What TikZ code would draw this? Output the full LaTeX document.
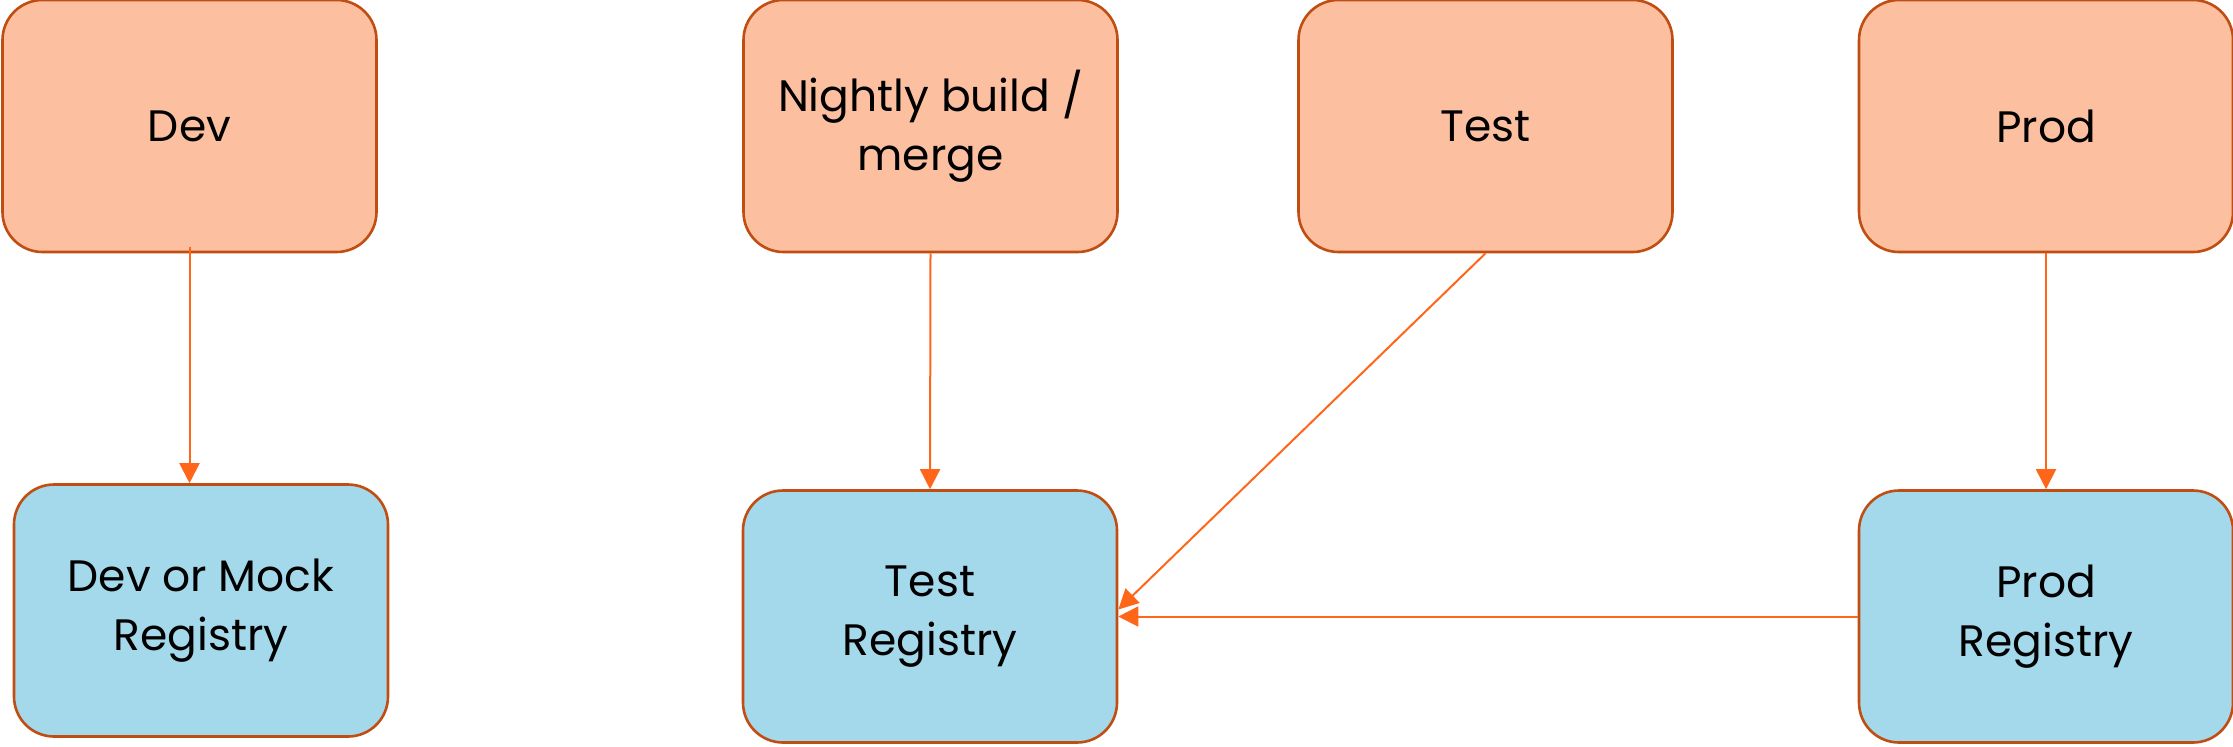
\documentclass[tikz,border=0pt]{standalone}
\usepackage{fontspec}
\setmainfont{Poppins}
\usetikzlibrary{arrows.meta}

\definecolor{stagefill}{RGB}{252,192,160}
\definecolor{regfill}{RGB}{164,216,235}
\definecolor{boxline}{RGB}{192,78,18}
\definecolor{flowline}{RGB}{255,102,26}

\tikzset{
  stage/.style={draw=boxline, line width=1.3pt, rounded corners=20pt,
    minimum width=187pt, minimum height=126pt, align=center,
    font=\fontsize{22}{29.5}\selectfont, inner sep=0pt},
  stagebox/.style={stage, fill=stagefill},
  regbox/.style={stage, fill=regfill},
  flow/.style={draw=flowline, line width=1pt,
    -{Triangle[length=10pt,width=10pt]}}
}

\begin{document}
\begin{tikzpicture}[x=0.5pt,y=-0.5pt]
    \useasboundingbox (0,0) rectangle (2233,746);

    \begin{scope}
      % environments
      \node [stagebox] (dev)     at (189.5,126)  {Dev};
      \node [stagebox] (nightly) at (930.5,126)  {Nightly build /\\merge};
      \node [stagebox] (test)    at (1485.5,126) {Test};
      \node [stagebox] (prod)    at (2046,126)   {Prod};

      % registries
      \node [regbox] (devreg)  at (201,610.5)  {Dev or Mock\\Registry};
      \node [regbox] (testreg) at (930,616.5)  {Test\\Registry};
      \node [regbox] (prodreg) at (2046,616.5) {Prod\\Registry};

      \draw [flow] ([yshift=3pt]dev.south) -- (dev.south |- devreg.north);
      \draw [flow] (nightly.south) -- (testreg.north);
      \draw [flow] (test.south) -- ([yshift=3.5pt]testreg.east);
      \draw [flow] (prod.south) -- (prodreg.north);
      \draw [flow] (prodreg.west) -- (testreg.east);
    \end{scope}
\end{tikzpicture}
\end{document}
